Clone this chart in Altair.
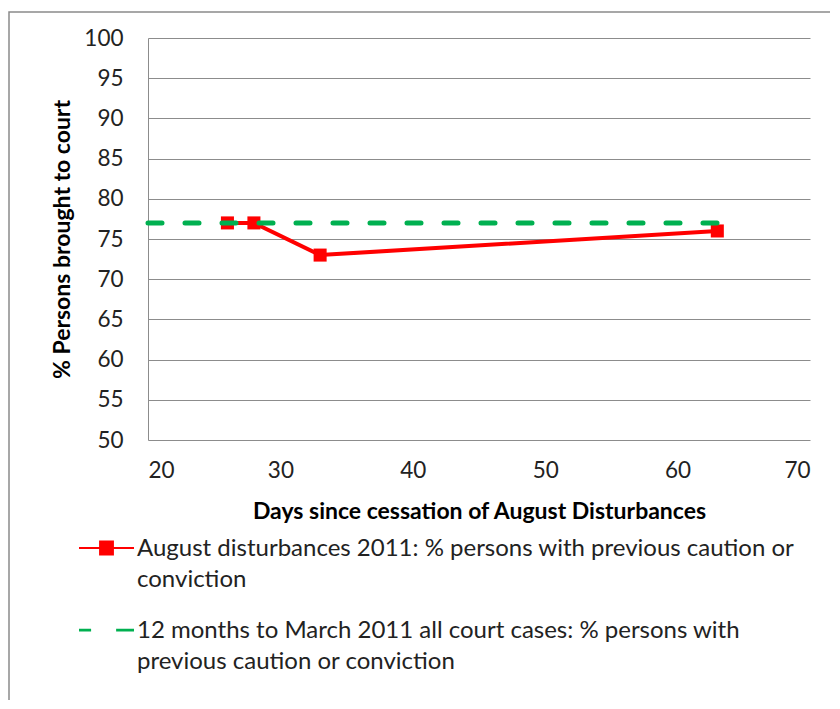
import altair as alt
import pandas as pd

# ---- data ----
days = [26, 28, 33, 63]
pct_aug = [77, 77, 73, 76]
base_days = [20, 63]
base_pct = [77, 77]
series_names = [
    "August disturbances 2011: % persons with previous caution or|conviction",
    "12 months to March 2011 all court cases: % persons with|previous caution or conviction",
]
y_ticks = list(range(50, 101, 5))
x_ticks = list(range(20, 71, 10))

FONT = "Lato"
RED = "#FF0000"
GREEN = "#00B050"
GRID = "#8C8C8C"
TXT = "#222222"

red_df = pd.DataFrame({"day": days, "pct": pct_aug})
green_df = pd.DataFrame({"day": base_days, "pct": base_pct})

xscale = alt.Scale(domain=[20, 70], nice=False)
yscale = alt.Scale(domain=[50, 100], nice=False)

xenc = alt.X("day:Q", scale=xscale,
             axis=alt.Axis(values=x_ticks, title="Days since cessation of August Disturbances",
                           grid=False, ticks=False, domain=False, labelPadding=19,
                           titlePadding=19))
yenc = alt.Y("pct:Q", scale=yscale,
             axis=alt.Axis(values=y_ticks, title="% Persons brought to court",
                           grid=True, ticks=False, domain=True, labelPadding=25,
                           titlePadding=9))

red_line = alt.Chart(red_df).mark_line(color=RED, strokeWidth=4).encode(x=xenc, y=yenc)
red_pts = alt.Chart(red_df).mark_point(shape="square", filled=True, color=RED, size=170,
                                       opacity=1).encode(x="day:Q", y="pct:Q")
green_line = alt.Chart(green_df).mark_line(color=GREEN, strokeWidth=5, strokeDash=[14, 23],
                                           strokeCap="round").encode(x="day:Q", y="pct:Q")

# ---- legend (drawn below the plot) ----
red_sym = ("M-1,-0.037L1,-0.037L1,0.037L-1,0.037Z "
           "M-0.27,-0.27L0.27,-0.27L0.27,0.27L-0.27,0.27Z")
green_sym = ("M-1,-0.05L-0.56,-0.05L-0.56,0.05L-1,0.05Z "
             "M0.35,-0.05L1,-0.05L1,0.05L0.35,0.05Z")

one = alt.Data(values=[{}])
leg_sym1 = alt.Chart(one).mark_point(shape=red_sym, size=3025, filled=True, color=RED,
                                     opacity=1, strokeWidth=0).encode(
    x=alt.value(-41.5), y=alt.value(510))
leg_sym2 = alt.Chart(one).mark_point(shape=green_sym, size=3025, filled=True, color=GREEN,
                                     opacity=1, strokeWidth=0).encode(
    x=alt.value(-41.5), y=alt.value(592))
leg_txt1 = alt.Chart(one).mark_text(align="left", baseline="alphabetic", lineBreak="|",
                                    lineHeight=31, font=FONT, fontSize=24, color=TXT).encode(
    x=alt.value(-11), y=alt.value(518), text=alt.value(series_names[0]))
leg_txt2 = alt.Chart(one).mark_text(align="left", baseline="alphabetic", lineBreak="|",
                                    lineHeight=31, font=FONT, fontSize=24, color=TXT).encode(
    x=alt.value(-11), y=alt.value(600), text=alt.value(series_names[1]))

frame = alt.Chart(one).mark_rect(
    fillOpacity=0, stroke="#8A8A8A", strokeWidth=1.5
).encode(x=alt.value(-139), x2=alt.value(720), y=alt.value(-26), y2=alt.value(720))

chart = alt.layer(frame, red_line, red_pts, green_line,
                  leg_sym1, leg_sym2, leg_txt1, leg_txt2).properties(
    width=662, height=402,
    autosize=alt.AutoSizeParams(type="none"),
    padding={"left": 140, "top": 30, "right": 20, "bottom": 260},
    background="white",
).configure_view(stroke=None).configure_axis(
    labelFont=FONT, labelFontSize=22.5, labelColor=TXT,
    titleFont=FONT, titleFontSize=23, titleFontWeight="bold", titleColor="#000",
    gridColor=GRID, gridWidth=1, domainColor=GRID, domainWidth=1,
)

chart.save("out.html", embed_options={"renderer": "svg", "actions": False})
